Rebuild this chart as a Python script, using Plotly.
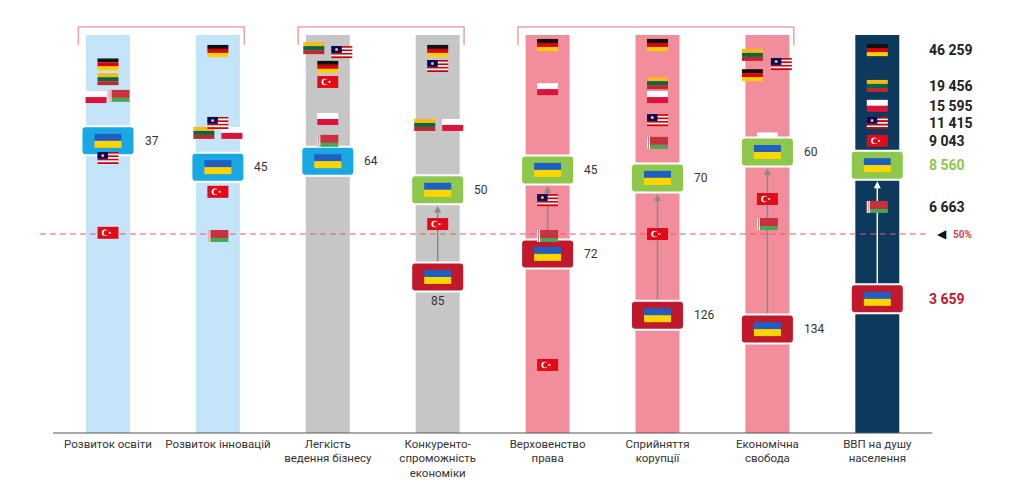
import plotly.graph_objects as go

# ---------------- data ----------------
categories = ["Розвиток освіти", "Розвиток інновацій", "Легкість<br>ведення бізнесу",
              "Конкуренто-<br>спроможність<br>економіки", "Верховенство<br>права",
              "Сприйняття<br>корупції", "Економічна<br>свобода", "ВВП на душу<br>населення"]
column_extent = [100, 100, 100, 100, 100, 100, 100, 100]
column_colors = ["#c3e4f9", "#c3e4f9", "#c6c6c6", "#c6c6c6",
                 "#f28d9b", "#f28d9b", "#f28d9b", "#0d3a5c"]

# relative position of each country in each indicator (0 = bottom, 100 = top, 50 = median)
germany   = [92.6, 96.0, 92.0, 96.0, 97.5, 97.5, 89.9, 96.2]
lithuania = [88.9, 75.4, 96.7, 77.4, None, 87.9, 95.0, 87.2]
poland    = [84.4, 75.4, 78.9, 77.4, 86.4, 84.4, 74.0, 82.2]
belarus   = [84.7, 49.5, 73.4, None, 49.5, 72.9, 52.5, 56.8]
malaysia  = [69.1, 77.9, 95.7, 92.2, 58.5, 78.6, 92.7, 77.9]
turkey    = [50.3, 60.6, 88.2, 52.5, 17.1, 50.0, 58.8, 73.4]

ukraine_now  = [73.4, 66.8, 68.3, 61.1, 66.1, 64.1, 70.6, 67.3]
ukraine_prev = [None, None, None, 39.2, 45.0, 29.6, 26.1, 33.7]
ukraine_now_labels  = ["37", "45", "64", "50", "45", "70", "60", "8 560"]
ukraine_prev_labels = [None, None, None, "85", "72", "126", "134", "3 659"]

gdp_labels = {"DE": "46 259", "LT": "19 456", "PL": "15 595", "MY": "11 415",
              "TR": "9 043", "BY": "6 663"}
median_value = 50
brackets = [(0, 1), (2, 3), (4, 6)]

# ---------------- geometry helpers (layout only) ----------------
PX = 1 / 109.9   # x units per pixel
PY = 1 / 3.98    # y units per pixel
FW, FH = 21 * PX, 12 * PY          # flag size
BW, BH = 53 * PX, 29 * PY          # Ukraine box size
FIG_W, FIG_H = 1016, 491           # page adds an 8px body margin
X0_PX = 100                        # pixel position of first column in the figure
BASE_PX = 425                      # pixel position of baseline in the figure

# horizontal nudges (pixels) for flags that would overlap
nudge = {("PL", 0): -12, ("BY", 0): 11,
         ("LT", 1): -14, ("PL", 1): 14,
         ("LT", 2): -14, ("MY", 2): 14,
         ("LT", 3): -13, ("PL", 3): 15,
         ("LT", 6): -15, ("MY", 6): 14, ("DE", 6): -15}
# flags drawn behind the Ukraine boxes
behind = {("PL", 6)}

shapes = []


def rect(x0, x1, y0, y1, color):
    shapes.append(dict(type="rect", xref="x", yref="y", x0=x0, x1=x1, y0=y0, y1=y1,
                       fillcolor=color, line=dict(width=0), layer="above"))


def circle(xc, yc, d, color):
    shapes.append(dict(type="circle", xref="x", yref="y",
                       x0=xc - d / 2 * PX, x1=xc + d / 2 * PX,
                       y0=yc - d / 2 * PY, y1=yc + d / 2 * PY,
                       fillcolor=color, line=dict(width=0), layer="above"))


def rrect(xc, yc, w, h, r, color, lw=0, lc="white"):
    rx, ry = r * PX, r * PY
    x0, x1, y0, y1 = xc - w / 2, xc + w / 2, yc - h / 2, yc + h / 2
    p = (f"M{x0+rx},{y0} L{x1-rx},{y0} Q{x1},{y0} {x1},{y0+ry} L{x1},{y1-ry} "
         f"Q{x1},{y1} {x1-rx},{y1} L{x0+rx},{y1} Q{x0},{y1} {x0},{y1-ry} "
         f"L{x0},{y0+ry} Q{x0},{y0} {x0+rx},{y0} Z")
    shapes.append(dict(type="path", xref="x", yref="y", path=p, fillcolor=color,
                       line=dict(width=lw, color=lc), layer="above"))


def stripes(xc, yc, w, h, colors, fracs=None):
    n = len(colors)
    fracs = fracs or [1 / n] * n
    top = yc + h / 2
    for c, f in zip(colors, fracs):
        rect(xc - w / 2, xc + w / 2, top - f * h, top, c)
        top -= f * h


def flag(code, xc, yc, w=FW, h=FH):
    if code == "DE":
        stripes(xc, yc, w, h, ["#111111", "#dd0000", "#ffce00"])
    elif code == "LT":
        stripes(xc, yc, w, h, ["#fdb913", "#006a44", "#c1272d"])
    elif code == "PL":
        stripes(xc, yc, w, h, ["#ffffff", "#dc143c"])
    elif code == "UA":
        stripes(xc, yc, w, h, ["#1f5fc4", "#ffd500"])
    elif code == "BY":
        stripes(xc, yc, w, h, ["#c8313e", "#4aa657"], [2 / 3, 1 / 3])
        rect(xc - w / 2, xc - w / 2 + 3 * PX, yc - h / 2, yc + h / 2, "#ffffff")
        rect(xc - w / 2 + 1 * PX, xc - w / 2 + 2 * PX, yc - h / 2, yc + h / 2, "#d9747c")
    elif code == "MY":
        stripes(xc, yc, w, h, ["#cc0001", "#ffffff"] * 3 + ["#cc0001"])
        rect(xc - w / 2, xc, yc + h / 2 - 4 / 7 * h, yc + h / 2, "#010066")
        circle(xc - w / 4, yc + h / 2 - 2 / 7 * h, 3, "#ffcc00")
    elif code == "TR":
        rect(xc - w / 2, xc + w / 2, yc - h / 2, yc + h / 2, "#e30a17")
        circle(xc - 3 * PX, yc, 6.5, "#ffffff")
        circle(xc - 1.8 * PX, yc, 5.2, "#e30a17")
        circle(xc + 1.8 * PX, yc, 2.2, "#ffffff")


# ---------------- figure ----------------
n = len(categories)
fig = go.Figure(go.Bar(x=list(range(n)), y=column_extent, width=0.40,
                       marker=dict(color=column_colors, line=dict(width=0)),
                       hoverinfo="skip"))

# brackets grouping indicators
for a, b in brackets:
    xl, xr = a - 0.27, b + 0.24
    yt, yb = 102.0, 97.5
    shapes.append(dict(type="path", xref="x", yref="y",
                       path=f"M{xl},{yb} L{xl},{yt} L{xr},{yt} L{xr},{yb}",
                       line=dict(color="#eaa3ab", width=1.5), layer="above"))

# baseline
shapes.append(dict(type="line", xref="x", yref="paper", x0=-0.5, x1=7.5, y0=0, y1=0,
                   line=dict(color="#555555", width=1), layer="above"))
# median line
shapes.append(dict(type="line", xref="x", yref="y", x0=-0.62, x1=7.48,
                   y0=median_value, y1=median_value,
                   line=dict(color="#e35b6a", width=1, dash="6px,4px"), layer="above"))

# arrows from previous to current Ukraine position
for i in range(n):
    if ukraine_prev[i] is None:
        continue
    col = "#ffffff" if i == n - 1 else "#8a8a8a"
    y_start = ukraine_prev[i] + BH / 2
    y_tip = ukraine_now[i] - BH / 2 - 1.5 * PY
    ah = 7 * PY
    shapes.append(dict(type="line", xref="x", yref="y", x0=i, x1=i, y0=y_start, y1=y_tip - ah,
                       line=dict(color=col, width=1.5), layer="above"))
    shapes.append(dict(type="path", xref="x", yref="y",
                       path=f"M{i - 3.5*PX},{y_tip - ah} L{i + 3.5*PX},{y_tip - ah} L{i},{y_tip} Z",
                       fillcolor=col, line=dict(width=0), layer="above"))

countries = {"DE": germany, "LT": lithuania, "PL": poland, "BY": belarus,
             "MY": malaysia, "TR": turkey}


def draw_flags(back):
    for code, vals in countries.items():
        for i, v in enumerate(vals):
            if v is None or (((code, i) in behind) != back):
                continue
            flag(code, i + nudge.get((code, i), 0) * PX, v)


draw_flags(True)

# Ukraine boxes
annotations = []
for i in range(n):
    now_color = "#1aa8e4" if i < 3 else "#8dc84c"
    rrect(i, ukraine_now[i], BW, BH, 4, now_color, lw=2)
    flag("UA", i, ukraine_now[i], 27 * PX, 14 * PY)
    if ukraine_prev[i] is not None:
        rrect(i, ukraine_prev[i], BW, BH, 4, "#c0192c", lw=2)
        flag("UA", i, ukraine_prev[i], 27 * PX, 14 * PY)

draw_flags(False)

label_font = dict(family="Roboto", size=12, color="#333333")
for i in range(n - 1):
    annotations.append(dict(x=i + BW / 2 + 8 * PX, y=ukraine_now[i], text=ukraine_now_labels[i],
                            xanchor="left", yanchor="middle", showarrow=False, font=label_font))
    if ukraine_prev_labels[i] is not None:
        if i == 3:
            annotations.append(dict(x=i, y=ukraine_prev[i] - BH / 2 - 10 * PY,
                                    text=ukraine_prev_labels[i], xanchor="center",
                                    yanchor="middle", showarrow=False, font=label_font))
        else:
            annotations.append(dict(x=i + BW / 2 + 8 * PX, y=ukraine_prev[i],
                                    text=ukraine_prev_labels[i], xanchor="left",
                                    yanchor="middle", showarrow=False, font=label_font))

# GDP values
gx = n - 1 + 50 * PX
for code, vals in countries.items():
    annotations.append(dict(x=gx, y=vals[n - 1], text=f"<b>{gdp_labels[code]}</b>",
                            xanchor="left", yanchor="middle", showarrow=False,
                            font=dict(family="Roboto", size=14, color="#222222")))
annotations.append(dict(x=gx, y=ukraine_now[n - 1], text=f"<b>{ukraine_now_labels[n - 1]}</b>",
                        xanchor="left", yanchor="middle", showarrow=False,
                        font=dict(family="Roboto", size=14, color="#8dc84c")))
annotations.append(dict(x=gx, y=ukraine_prev[n - 1], text=f"<b>{ukraine_prev_labels[n - 1]}</b>",
                        xanchor="left", yanchor="middle", showarrow=False,
                        font=dict(family="Roboto", size=14, color="#c0192c")))

# median marker
annotations.append(dict(x=n - 1 + 65 * PX, y=median_value, text="◀", xanchor="center",
                        yanchor="middle", showarrow=False,
                        font=dict(family="DejaVu Sans", size=12, color="#111111")))
annotations.append(dict(x=n - 1 + 74 * PX, y=median_value, text="<b>50%</b>", xanchor="left",
                        yanchor="middle", showarrow=False,
                        font=dict(family="Roboto", size=10, color="#d9434f")))

fig.update_layout(
    width=FIG_W, height=FIG_H,
    margin=dict(l=0, r=0, t=0, b=FIG_H - BASE_PX),
    paper_bgcolor="white", plot_bgcolor="white",
    showlegend=False, hovermode=False,
    shapes=shapes, annotations=annotations,
    xaxis=dict(range=[-X0_PX * PX, (FIG_W - X0_PX) * PX], tickvals=list(range(n)),
               ticktext=categories, showgrid=False, zeroline=False, showline=False,
               ticks="", ticklabelstandoff=2,
               tickfont=dict(family="Roboto", size=11.5, color="#333333")),
    yaxis=dict(range=[0, BASE_PX * PY], visible=False),
)

fig.write_html("out.html")
